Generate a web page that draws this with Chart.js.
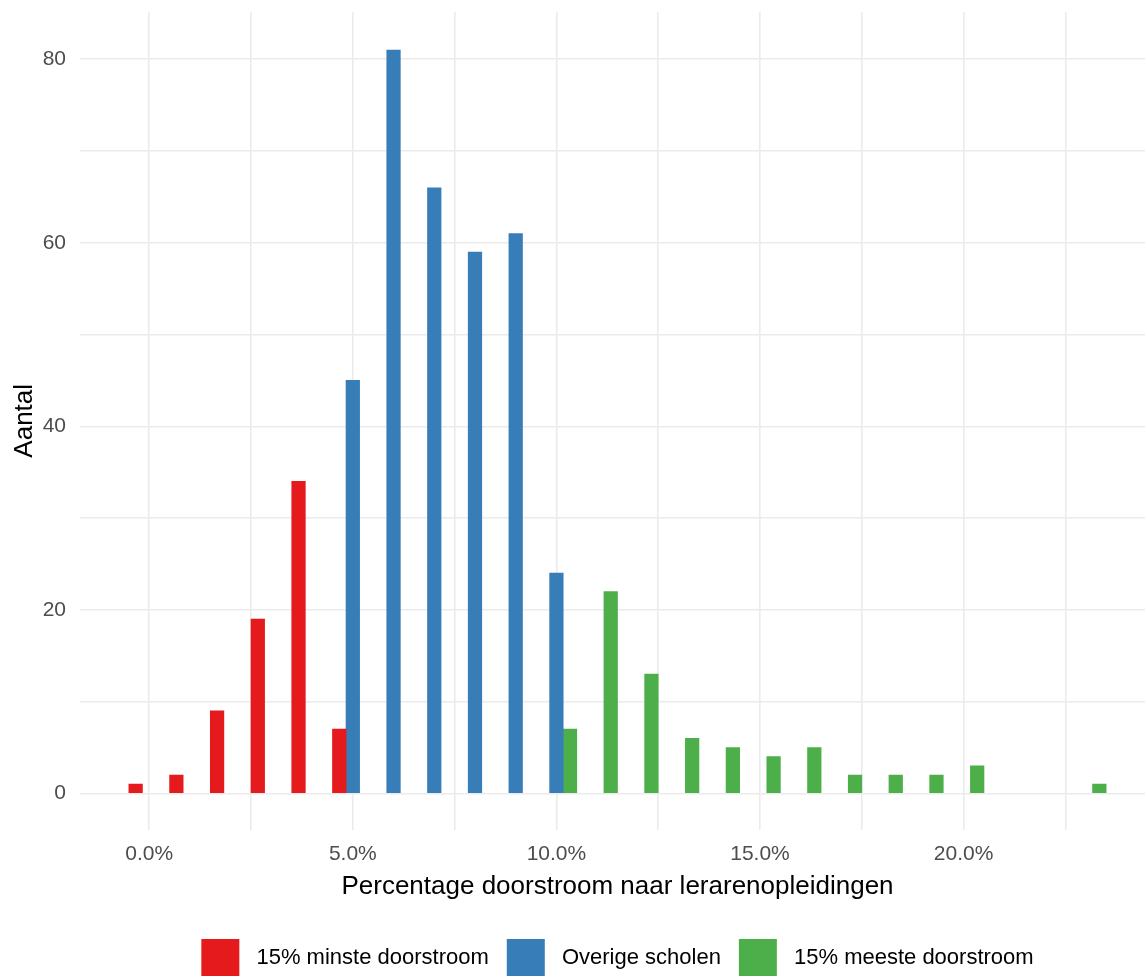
<!DOCTYPE html>
<html>
<head>
<meta charset="utf-8">
<script src="https://cdn.jsdelivr.net/npm/chart.js@4/dist/chart.umd.min.js"></script>
<style>
    html, body { margin: 0; padding: 0; background: #fff; overflow: hidden; }
    #wrap { width: 1160px; height: 987px; }
</style>
</head>
<body>
<div id="wrap"><canvas id="chart"></canvas></div>
<script>
// histogram bins (percentage doorstroom) and counts per group
const groupNames = ['15% minste doorstroom', 'Overige scholen', '15% meeste doorstroom'];
const groupColors = ['#E41A1C', '#377EB8', '#4DAF4A'];

const minsteBins = [0, 1, 2, 3, 4, 5];
const minsteCounts = [1, 2, 9, 19, 34, 7];

const overigeBins = [5, 6, 7, 8, 9, 10];
const overigeCounts = [45, 81, 66, 59, 61, 24];

const meesteBins = [10, 11, 12, 13, 14, 15, 16, 17, 18, 19, 20, 23];
const meesteCounts = [7, 22, 13, 6, 5, 4, 5, 2, 2, 2, 3, 1];

const xTicks = [0, 2.5, 5, 7.5, 10, 12.5, 15, 17.5, 20, 22.5];
const yTicks = [0, 10, 20, 30, 40, 50, 60, 70, 80];

const FONT = '"Liberation Sans", Arial, sans-serif';

// dodge the three groups inside each 1%-bin, like ggplot does
const dodge = [-1 / 3, 0, 1 / 3];
function toPoints(bins, counts, shift) {
    return bins.map((b, i) => ({ x: b + shift, y: counts[i] }));
}

const series = [
    toPoints(minsteBins, minsteCounts, dodge[0]),
    toPoints(overigeBins, overigeCounts, dodge[1]),
    toPoints(meesteBins, meesteCounts, dodge[2])
];

const datasets = series.map((pts, i) => ({
    label: groupNames[i],
    data: pts,
    backgroundColor: groupColors[i],
    borderWidth: 0,
    categoryPercentage: 1,
    barPercentage: 1,
    grouped: false
}));

const ctx = document.getElementById('chart').getContext('2d');

new Chart(ctx, {
    type: 'bar',
    data: { datasets: datasets },
    options: {
        responsive: true,
        maintainAspectRatio: false,
        animation: false,
        layout: { padding: { top: 12, right: 5, left: 0, bottom: 0 } },
        scales: {
            x: {
                type: 'linear',
                min: -1.7,
                max: 24.7,
                offset: false,
                grid: { offset: false, color: '#ebebeb', lineWidth: 1.6, drawTicks: false },
                border: { display: false },
                afterBuildTicks: scale => { scale.ticks = xTicks.map(v => ({ value: v })); },
                ticks: {
                    padding: 12,
                    maxRotation: 0,
                    autoSkip: false,
                    color: '#4d4d4d',
                    font: { family: FONT, size: 21 },
                    callback: v => (v % 5 === 0 ? v.toFixed(1) + '%' : '')
                },
                title: {
                    display: true,
                    text: 'Percentage doorstroom naar lerarenopleidingen',
                    color: '#000',
                    font: { family: FONT, size: 26 },
                    padding: { top: -8, bottom: 19 }
                }
            },
            y: {
                min: -3.95,
                max: 85.15,
                grid: { color: '#ebebeb', lineWidth: 1.6, drawTicks: false },
                border: { display: false },
                afterBuildTicks: scale => { scale.ticks = yTicks.map(v => ({ value: v })); },
                afterFit: scale => {
                    scale.width = 80;
                    scale.paddingTop = 0;
                    scale.paddingBottom = 0;
                },
                ticks: {
                    padding: 14,
                    color: '#4d4d4d',
                    font: { family: FONT, size: 21 },
                    callback: v => (v % 20 === 0 ? v : '')
                },
                title: {
                    display: true,
                    text: 'Aantal',
                    color: '#000',
                    font: { family: FONT, size: 26 },
                    padding: { top: 9, bottom: 0 }
                }
            }
        },
        plugins: {
            tooltip: { enabled: false },
            legend: {
                position: 'bottom',
                fullSize: false,
                labels: {
                    boxWidth: 38,
                    boxHeight: 38,
                    padding: 18,
                    color: '#000',
                    font: { family: FONT, size: 22 },
                    generateLabels: chart => {
                        const items = Chart.defaults.plugins.legend.labels.generateLabels(chart);
                        return items.map(it => ({ ...it, text: ' ' + it.text, lineWidth: 0 }));
                    }
                }
            }
        }
    }
});
</script>
</body>
</html>
